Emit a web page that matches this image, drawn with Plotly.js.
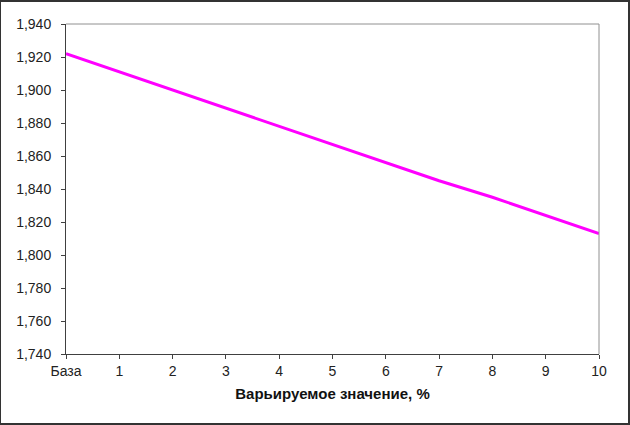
<!DOCTYPE html>
<html>
<head>
<meta charset="utf-8">
<script src="https://cdn.plot.ly/plotly-3.0.1.min.js"></script>
<style>html,body{margin:0;padding:0;background:#fff}#chart{width:630px;height:425px}</style>
</head>
<body>
<div id="chart"></div>
<script>
var xVals = [0, 1, 2, 3, 4, 5, 6, 7, 8, 9, 10];
var tickLabels = ['База', '1', '2', '3', '4', '5', '6', '7', '8', '9', '10'];
var yVals = [1.922, 1.911, 1.900, 1.889, 1.878, 1.867, 1.856, 1.845, 1.835, 1.824, 1.813];
var yTicks = [1.74, 1.76, 1.78, 1.80, 1.82, 1.84, 1.86, 1.88, 1.90, 1.92, 1.94];
var xTitle = 'Варьируемое значение, %';

var fontFam = 'Liberation Sans, Arial, sans-serif';
var data = [{
  x: xVals, y: yVals, type: 'scatter', mode: 'lines',
  line: {color: '#FF00FF', width: 3},
  hoverinfo: 'skip', showlegend: false
}];
var layout = {
  width: 630, height: 425,
  margin: {l: 66, r: 31, t: 24, b: 71},
  paper_bgcolor: '#fff', plot_bgcolor: '#fff',
  separators: ', ',
  font: {family: fontFam, size: 14, color: '#222'},
  xaxis: {
    range: [0, 10], tickvals: xVals, ticktext: tickLabels,
    showgrid: false, zeroline: false, showline: true, linecolor: '#404040', linewidth: 1,
    ticks: 'outside', ticklen: 4, tickcolor: '#404040', tickfont: {size: 14, color: '#222'},
    title: {text: xTitle, font: {size: 15, color: '#111', weight: 'bold'}, standoff: 10}
  },
  yaxis: {
    range: [1.74, 1.94], tickvals: yTicks, tickformat: '.3f',
    showgrid: false, zeroline: false, showline: true, linecolor: '#404040', linewidth: 1,
    ticks: 'outside', ticklen: 4, tickcolor: '#404040', tickfont: {size: 14, color: '#222'},
    ticklabelstandoff: 7
  },
  xaxis2: {
    overlaying: 'x', range: [0, 10], tickvals: xVals, showticklabels: false,
    ticks: 'inside', ticklen: 4, tickcolor: '#404040', showgrid: false, zeroline: false, showline: false
  },
  yaxis2: {
    overlaying: 'y', range: [1.74, 1.94], tickvals: yTicks, showticklabels: false,
    ticks: 'inside', ticklen: 4, tickcolor: '#404040', showgrid: false, zeroline: false, showline: false
  },
  shapes: [
    {type: 'line', xref: 'paper', yref: 'paper', x0: 0, x1: 1, y0: 1, y1: 1, line: {color: '#909090', width: 1}},
    {type: 'line', xref: 'paper', yref: 'paper', x0: 1, x1: 1, y0: 0, y1: 1, line: {color: '#909090', width: 1}},
    {type: 'rect', xref: 'paper', yref: 'paper',
     x0: -66/533, x1: 1 + 30/533, y0: -70/330, y1: 1 + 23/330,
     line: {color: '#333', width: 2}, layer: 'above'}
  ]
};
Plotly.newPlot('chart', data, layout, {staticPlot: true});
</script>
</body>
</html>
